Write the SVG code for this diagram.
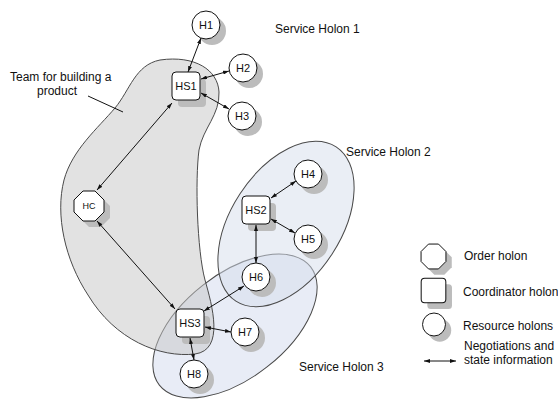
<svg xmlns="http://www.w3.org/2000/svg" width="558" height="399" viewBox="0 0 558 399">
  <defs>
    <style>
      text { font-family: "Liberation Sans", Arial, sans-serif; fill: #111; }
      .lbl { font-size: 12px; }
      .nl { font-size: 11px; text-anchor: middle; }
      .node { fill: #fff; stroke: #111; stroke-width: 1; }
      .shadow { fill: #bcbcbc; stroke: none; }
      .link { stroke: #111; stroke-width: 1; fill: none; }
      .region { stroke: #4a4a4a; stroke-width: 1; }
    </style>
    <marker id="ahEnd" viewBox="0 0 6 4" refX="6" refY="2" markerWidth="6" markerHeight="4" markerUnits="userSpaceOnUse" orient="auto">
      <path d="M0,0 L6,2 L0,4 z" fill="#111"/>
    </marker>
    <marker id="ahStart" viewBox="0 0 6 4" refX="0" refY="2" markerWidth="6" markerHeight="4" markerUnits="userSpaceOnUse" orient="auto">
      <path d="M6,0 L0,2 L6,4 z" fill="#111"/>
    </marker>
    <circle id="res" r="14"/>
    <rect id="coord" x="-14" y="-14" width="28" height="28" rx="4"/>
    <polygon id="ord" points="-6,-15 6,-15 15,-6 15,6 6,15 -6,15 -15,6 -15,-6"/>
  </defs>

  <!-- regions: service holon 3, service holon 2, product team -->
  <g id="regions">
    <ellipse id="sh3" class="region" cx="235" cy="326" rx="96" ry="52" transform="rotate(-38 235 326)" fill="#e8ecf6"/>
    <ellipse id="sh2" class="region" cx="286" cy="224" rx="92" ry="55" transform="rotate(-57 286 224)" fill="#d5ddec" fill-opacity="0.5"/>
    <path id="team" class="region" fill="#c5c5c5" fill-opacity="0.5"
      d="M160,60 C195,55 218,70 219,92 C220,115 203,128 199,150 C195,180 197,250 205,280 C212,305 225,350 195,354 C160,358 115,340 88,295 C65,260 55,215 64,180 C72,150 98,128 115,108 C130,90 135,65 160,60 Z"/>
  </g>

  <!-- region captions -->
  <text class="lbl" x="275" y="33">Service Holon 1</text>
  <text class="lbl" x="346" y="156">Service Holon 2</text>
  <text class="lbl" x="299" y="371">Service Holon 3</text>
  <text class="lbl" x="10" y="81">Team for building a</text>
  <text class="lbl" x="37" y="95">product</text>
  <line x1="88" y1="96" x2="123" y2="112" stroke="#111" stroke-width="1"/>

  <!-- drop shadows, kept beneath the links -->
  <g id="shadows" class="shadow">
    <use href="#res" x="212" y="31"/>
    <use href="#res" x="249" y="74"/>
    <use href="#res" x="248" y="122"/>
    <use href="#coord" x="192" y="93"/>
    <use href="#ord" x="95" y="212"/>
    <use href="#res" x="314" y="180"/>
    <use href="#res" x="314" y="245"/>
    <use href="#coord" x="262" y="217"/>
    <use href="#res" x="262" y="283"/>
    <use href="#coord" x="196" y="330"/>
    <use href="#res" x="251" y="338"/>
    <use href="#res" x="200" y="380"/>
  </g>

  <!-- connectors: two-way negotiation links -->
  <g id="connectors">
    <line class="link" x1="201" y1="38" x2="188" y2="72" marker-start="url(#ahStart)" marker-end="url(#ahEnd)"/>
    <line class="link" x1="201" y1="79" x2="229" y2="71" marker-start="url(#ahStart)" marker-end="url(#ahEnd)"/>
    <line class="link" x1="201" y1="93" x2="229" y2="109" marker-start="url(#ahStart)" marker-end="url(#ahEnd)"/>
    <line class="link" x1="172" y1="103" x2="97" y2="190" marker-start="url(#ahStart)" marker-end="url(#ahEnd)"/>
    <line class="link" x1="97" y1="221" x2="175" y2="309" marker-start="url(#ahStart)" marker-end="url(#ahEnd)"/>
    <line class="link" x1="271" y1="198" x2="296" y2="181" marker-start="url(#ahStart)" marker-end="url(#ahEnd)"/>
    <line class="link" x1="271" y1="219" x2="295" y2="233" marker-start="url(#ahStart)" marker-end="url(#ahEnd)"/>
    <line class="link" x1="256" y1="225" x2="256" y2="263" marker-start="url(#ahStart)" marker-end="url(#ahEnd)"/>
    <line class="link" x1="204" y1="311" x2="244" y2="286" marker-start="url(#ahStart)" marker-end="url(#ahEnd)"/>
    <line class="link" x1="205" y1="327" x2="231" y2="332" marker-start="url(#ahStart)" marker-end="url(#ahEnd)"/>
    <line class="link" x1="190" y1="338" x2="194" y2="360" marker-start="url(#ahStart)" marker-end="url(#ahEnd)"/>
  </g>

  <!-- nodes -->
  <g id="H1" transform="translate(206,25)">
    <use href="#res" class="node"/><text class="nl" y="4">H1</text>
  </g>
  <g id="H2" transform="translate(243,68)">
    <use href="#res" class="node"/><text class="nl" y="4">H2</text>
  </g>
  <g id="H3" transform="translate(242,116)">
    <use href="#res" class="node"/><text class="nl" y="4">H3</text>
  </g>
  <g id="HS1" transform="translate(186,86)">
    <use href="#coord" class="node"/><text class="nl" y="4">HS1</text>
  </g>
  <g id="HC" transform="translate(89,206)">
    <use href="#ord" class="node"/><text class="nl" y="3" style="font-size:9px">HC</text>
  </g>
  <g id="H4" transform="translate(308,174)">
    <use href="#res" class="node"/><text class="nl" y="4">H4</text>
  </g>
  <g id="H5" transform="translate(308,239)">
    <use href="#res" class="node"/><text class="nl" y="4">H5</text>
  </g>
  <g id="HS2" transform="translate(256,210)">
    <use href="#coord" class="node"/><text class="nl" y="4">HS2</text>
  </g>
  <g id="H6" transform="translate(256,277)">
    <use href="#res" class="node"/><text class="nl" y="4">H6</text>
  </g>
  <g id="HS3" transform="translate(190,323)">
    <use href="#coord" class="node"/><text class="nl" y="4">HS3</text>
  </g>
  <g id="H7" transform="translate(245,332)">
    <use href="#res" class="node"/><text class="nl" y="4">H7</text>
  </g>
  <g id="H8" transform="translate(194,374)">
    <use href="#res" class="node"/><text class="nl" y="4">H8</text>
  </g>

  <!-- legend -->
  <g id="legend">
    <g transform="translate(433.5,256.5) scale(0.83)">
      <use href="#ord" class="shadow" x="7" y="7"/><use href="#ord" class="node" style="stroke-width:1.2"/>
    </g>
    <text class="lbl" x="464" y="260">Order holon</text>
    <g transform="translate(433.5,290.5) scale(0.88)">
      <use href="#coord" class="shadow" x="7" y="7"/><use href="#coord" class="node" style="stroke-width:1.15"/>
    </g>
    <text class="lbl" x="463" y="296">Coordinator holon</text>
    <g transform="translate(434,324.5) scale(0.82)">
      <use href="#res" class="shadow" x="7" y="7"/><use href="#res" class="node" style="stroke-width:1.2"/>
    </g>
    <text class="lbl" x="463" y="330">Resource holons</text>
    <line class="link" x1="424" y1="361" x2="456" y2="361" marker-start="url(#ahStart)" marker-end="url(#ahEnd)"/>
    <text class="lbl" x="464" y="350">Negotiations and</text>
    <text class="lbl" x="464" y="364">state information</text>
  </g>
</svg>
